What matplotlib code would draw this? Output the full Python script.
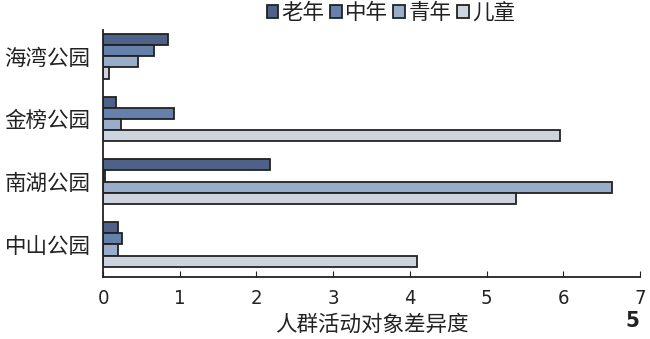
import matplotlib
matplotlib.use("Agg")
import matplotlib.pyplot as plt
import numpy as np

plt.rcParams['font.family'] = ['Noto Sans CJK SC', 'DejaVu Sans']

# parks, listed bottom to top
parks = ['中山公园', '南湖公园', '金榜公园', '海湾公园']
groups = ['老年', '中年', '青年', '儿童']
old = [0.20, 2.18, 0.17, 0.85]
middle = [0.25, 0.03, 0.92, 0.66]
young = [0.19, 6.64, 0.24, 0.46]
child = [4.09, 5.39, 5.96, 0.08]
colors = ['#4d6189', '#6580ab', '#98adc9', '#cdd4de']

fig = plt.figure(figsize=(6.5, 3.39), dpi=100)
ax = fig.add_axes([0.1585, 0.183, 0.826, 0.729])

y = np.arange(len(parks))
h = 0.178
series = [old, middle, young, child]
for i, (vals, name, c) in enumerate(zip(series, groups, colors)):
    offset = (1.5 - i) * h
    ax.barh(y + offset, vals, height=h, color=c, edgecolor='#222222',
            linewidth=1.3, label=name)

ax.set_xlim(0, 7)
ax.set_ylim(-0.52, 3.42)
ax.set_xticks(range(0, 8))
ax.set_yticks(y)
ax.set_yticklabels(parks, fontsize=15.5, fontweight='light', color='#222222')
ax.tick_params(axis='y', length=0, pad=9)
ax.tick_params(axis='x', direction='in', length=4, pad=9, color='#222222')
for lab in ax.get_xticklabels():
    lab.set_family('DejaVu Sans')
    lab.set_fontstretch('condensed')
    lab.set_fontweight('light')
    lab.set_fontsize(14.5)
    lab.set_color('#222222')
for s in ['top', 'right']:
    ax.spines[s].set_visible(False)
for s in ['left', 'bottom']:
    ax.spines[s].set_color('#222222')
    ax.spines[s].set_linewidth(1.3)

ax.set_xlabel('人群活动对象差异度', fontsize=15.5, labelpad=4,
              fontweight='light', color='#222222')

leg = ax.legend(loc='lower center', bbox_to_anchor=(0.536, 1.0), ncol=4,
                frameon=False, fontsize=15.5, handlelength=0.55,
                handleheight=0.55, handletextpad=0.15, columnspacing=0.25,
                borderaxespad=-0.15, prop={'size': 15.5, 'weight': 'light'})
for t in leg.get_texts():
    t.set_color('#222222')

fig.text(0.984, 0.025, '5', fontsize=16, fontweight='bold', ha='right',
         va='bottom', family='DejaVu Sans', fontstretch='condensed',
         color='#222222')

fig.savefig('out.png', dpi=100)
